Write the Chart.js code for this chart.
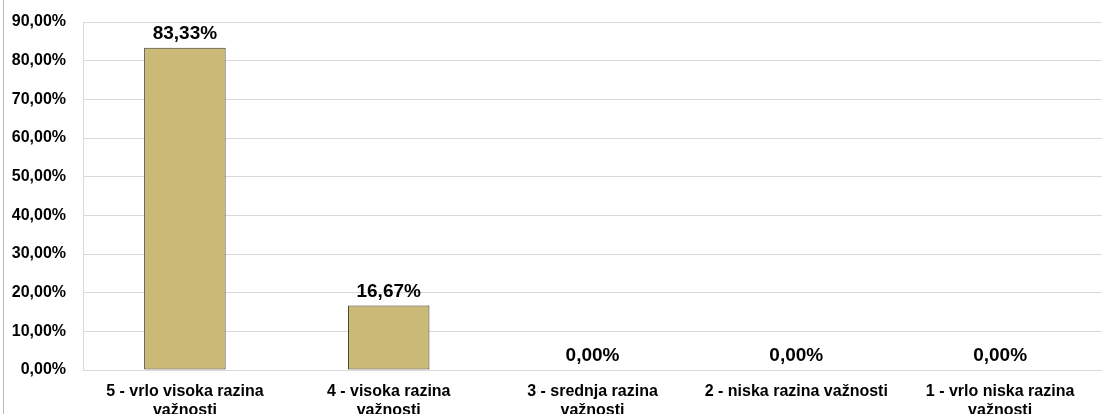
<!DOCTYPE html>
<html>
<head>
<meta charset="utf-8">
<script src="https://cdn.jsdelivr.net/npm/chart.js@4"></script>
<style>
    html, body { margin: 0; padding: 0; background: #fff; }
    #wrap { position: absolute; left: 3px; top: 0; width: 1103px; height: 414px; border-left: 1px solid #bcbcbc; }
</style>
</head>
<body>
<div id="wrap"><canvas id="chart"></canvas></div>
<script>
const categories = [
    ['5 - vrlo visoka razina', 'važnosti'],
    ['4 - visoka razina', 'važnosti'],
    ['3 - srednja razina', 'važnosti'],
    '2 - niska razina važnosti',
    ['1 - vrlo niska razina', 'važnosti']
];
const values = [83.33, 16.67, 0, 0, 0];
const yMax = 90;
const yStep = 10;

const FONT = '"Liberation Sans", Arial, sans-serif';

function pct(v) {
    return v.toFixed(2).replace('.', ',') + '%';
}

// value labels above each bar
const valueLabels = {
    id: 'valueLabels',
    afterDatasetsDraw: chart => {
        const ctx = chart.ctx;
        const meta = chart.getDatasetMeta(0);
        ctx.save();
        ctx.font = 'bold 19px ' + FONT;
        ctx.fillStyle = '#000';
        ctx.textAlign = 'center';
        ctx.textBaseline = 'alphabetic';
        meta.data.forEach((bar, i) => {
            ctx.fillText(pct(values[i]), bar.x, bar.y - 9);
        });
        ctx.restore();
    }
};

const ctx = document.getElementById('chart').getContext('2d');
const chart = new Chart(ctx, {
    type: 'bar',
    data: {
        labels: categories,
        datasets: [{
            data: values,
            backgroundColor: '#cbb977',
            borderColor: '#3b3626',
            borderWidth: 1,
            borderSkipped: false,
            barPercentage: 0.8,
            categoryPercentage: 0.5
        }]
    },
    options: {
        responsive: true,
        maintainAspectRatio: false,
        animation: false,
        layout: {
            padding: { top: 22, right: 5, left: 0, bottom: -13 }
        },
        plugins: {
            legend: { display: false },
            tooltip: { enabled: false }
        },
        scales: {
            x: {
                grid: { display: false },
                border: { display: false },
                afterFit: scale => { scale.height = 57; },
                ticks: {
                    color: '#000',
                    maxRotation: 0,
                    autoSkip: false,
                    padding: 4,
                    font: { family: FONT, size: 16, weight: 'bold', lineHeight: 1.2 }
                }
            },
            y: {
                min: 0,
                max: yMax,
                afterFit: scale => {
                    scale.width = 79;
                    scale.paddingTop = 0;
                    scale.paddingBottom = 0;
                },
                border: { display: true, color: '#d9d9d9' },
                grid: { color: '#d9d9d9', drawTicks: false },
                ticks: {
                    stepSize: yStep,
                    color: '#000',
                    padding: 17,
                    font: { family: FONT, size: 16, weight: 'bold' },
                    callback: v => pct(v)
                }
            }
        }
    },
    plugins: [valueLabels]
});
</script>
</body>
</html>
